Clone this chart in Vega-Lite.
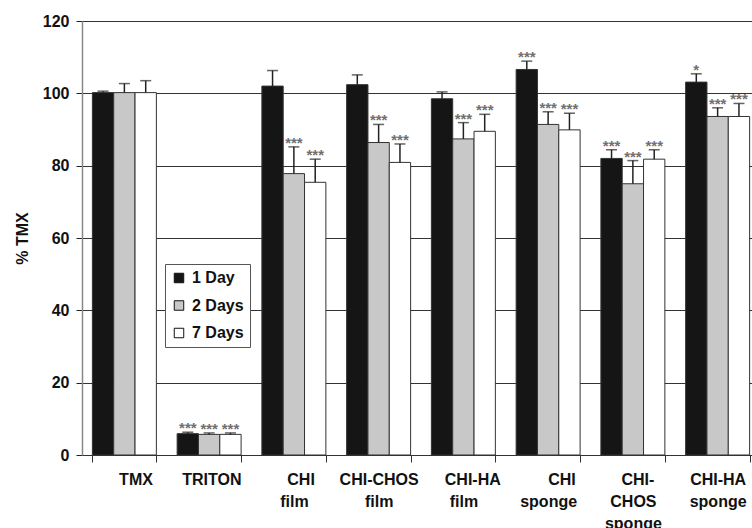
{
  "$schema": "https://vega.github.io/schema/vega-lite/v6.json",
  "autosize": {"type": "none"},
  "padding": {"left": 82, "top": 21, "right": 0, "bottom": 73},
  "width": 670,
  "height": 434,
  "background": "white",
  "config": {
    "font": "Liberation Sans",
    "view": {"stroke": null},
    "axis": {"labelFont": "Liberation Sans", "titleFont": "Liberation Sans"}
  },
  "data": {
    "values": [
      {"sample": "TMX", "time": "1 Day", "pct": 100.2, "upper": 100.6, "sig": ""},
      {"sample": "TMX", "time": "2 Days", "pct": 100.2, "upper": 102.7, "sig": ""},
      {"sample": "TMX", "time": "7 Days", "pct": 100.2, "upper": 103.5, "sig": ""},
      {"sample": "TRITON", "time": "1 Day", "pct": 5.9, "upper": 6.3, "sig": "***"},
      {"sample": "TRITON", "time": "2 Days", "pct": 5.7, "upper": 6.1, "sig": "***"},
      {"sample": "TRITON", "time": "7 Days", "pct": 5.7, "upper": 6.1, "sig": "***"},
      {"sample": "CHI film", "time": "1 Day", "pct": 102.0, "upper": 106.3, "sig": ""},
      {"sample": "CHI film", "time": "2 Days", "pct": 77.8, "upper": 85.2, "sig": "***"},
      {"sample": "CHI film", "time": "7 Days", "pct": 75.4, "upper": 81.8, "sig": "***"},
      {"sample": "CHI-CHOS film", "time": "1 Day", "pct": 102.4, "upper": 105.1, "sig": ""},
      {"sample": "CHI-CHOS film", "time": "2 Days", "pct": 86.4, "upper": 91.4, "sig": "***"},
      {"sample": "CHI-CHOS film", "time": "7 Days", "pct": 80.9, "upper": 86.0, "sig": "***"},
      {"sample": "CHI-HA film", "time": "1 Day", "pct": 98.5, "upper": 100.4, "sig": ""},
      {"sample": "CHI-HA film", "time": "2 Days", "pct": 87.4, "upper": 91.9, "sig": "***"},
      {"sample": "CHI-HA film", "time": "7 Days", "pct": 89.5, "upper": 94.2, "sig": "***"},
      {"sample": "CHI sponge", "time": "1 Day", "pct": 106.6, "upper": 108.9, "sig": "***"},
      {"sample": "CHI sponge", "time": "2 Days", "pct": 91.4, "upper": 94.9, "sig": "***"},
      {"sample": "CHI sponge", "time": "7 Days", "pct": 89.9, "upper": 94.5, "sig": "***"},
      {"sample": "CHI-CHOS sponge", "time": "1 Day", "pct": 82.0, "upper": 84.4, "sig": "***"},
      {"sample": "CHI-CHOS sponge", "time": "2 Days", "pct": 75.0, "upper": 81.4, "sig": "***"},
      {"sample": "CHI-CHOS sponge", "time": "7 Days", "pct": 81.8, "upper": 84.4, "sig": "***"},
      {"sample": "CHI-HA sponge", "time": "1 Day", "pct": 103.1, "upper": 105.4, "sig": "*"},
      {"sample": "CHI-HA sponge", "time": "2 Days", "pct": 93.6, "upper": 96.0, "sig": "***"},
      {"sample": "CHI-HA sponge", "time": "7 Days", "pct": 93.6, "upper": 97.2, "sig": "***"}
    ]
  },
  "encoding": {
    "x": {
      "field": "sample",
      "type": "nominal",
      "sort": null,
      "scale": {"range": [0, 678], "paddingInner": 0.245, "paddingOuter": 0.1225},
      "axis": {
        "title": null,
        "labelAngle": 0,
        "tickBand": "extent",
        "labelExpr": "datum.value == 'TMX' ? '\u200b\u00a0\u00a0\u00a0\u00a0\u00a0TMX' : datum.value == 'TRITON' ? '\u200b\u00a0TRITON' : datum.value == 'CHI film' ? ['\u200b\u00a0\u00a0\u00a0CHI', 'film'] : datum.value == 'CHI-CHOS film' ? ['CHI-CHOS', 'film'] : datum.value == 'CHI-HA film' ? ['\u200b\u00a0\u00a0\u00a0\u00a0CHI-HA', 'film'] : datum.value == 'CHI sponge' ? ['\u200b\u00a0\u00a0\u00a0\u00a0\u00a0\u00a0CHI', 'sponge'] : datum.value == 'CHI-CHOS sponge' ? ['\u200b\u00a0\u00a0CHI-', 'CHOS', 'sponge'] : datum.value == 'CHI-HA sponge' ? ['CHI-HA', 'sponge'] : datum.value",
        "labelFontSize": 16,
        "labelFontWeight": "bold",
        "labelColor": "#111",
        "labelLineHeight": 22,
        "labelBaseline": "top",
        "labelPadding": 9,
        "tickSize": 7,
        "tickColor": "#333",
        "domainColor": "#333",
        "domainWidth": 1.2,
        "labelOverlap": false,
        "labelBound": false,
        "labelFlush": false
      }
    },
    "xOffset": {
      "field": "time",
      "type": "nominal",
      "scale": {"paddingInner": 0, "paddingOuter": 0}
    },
    "y": {
      "field": "pct",
      "type": "quantitative",
      "scale": {"domain": [0, 120], "nice": false},
      "axis": {
        "title": "% TMX",
        "titleFontSize": 16,
        "titleFontWeight": "bold",
        "titleColor": "#111",
        "titlePadding": 12,
        "values": [0, 20, 40, 60, 80, 100, 120],
        "labelFontSize": 16,
        "labelFontWeight": "bold",
        "labelColor": "#111",
        "labelPadding": 7,
        "tickSize": 6,
        "tickColor": "#222",
        "domainColor": "#888",
        "domainWidth": 1.5,
        "grid": true,
        "gridColor": "#333",
        "gridWidth": 1
      }
    }
  },
  "layer": [
    {
      "mark": {"type": "bar", "stroke": "#333", "strokeWidth": 1},
      "encoding": {
        "color": {
          "field": "time",
          "type": "nominal",
          "scale": {"domain": ["1 Day", "2 Days", "7 Days"], "range": ["#151515", "#c8c8c8", "#ffffff"]},
          "legend": {
            "title": null,
            "orient": "none",
            "legendX": 83,
            "legendY": 243,
            "symbolType": "square",
            "symbolSize": 90,
            "symbolStrokeColor": "#111",
            "symbolStrokeWidth": 1,
            "symbolOpacity": 1,
            "labelFontSize": 16,
            "labelFontWeight": "bold",
            "labelColor": "#111",
            "labelOffset": 5,
            "rowPadding": 11.5,
            "padding": 6,
            "fillColor": "white",
            "strokeColor": "#555",
            "cornerRadius": 0
          }
        }
      }
    },
    {
      "mark": {"type": "rule", "color": "#222", "strokeWidth": 1.5},
      "encoding": {"y2": {"field": "upper"}}
    },
    {
      "mark": {"type": "tick", "color": "#222", "thickness": 1.5, "size": 11},
      "encoding": {"y": {"field": "upper", "type": "quantitative"}}
    },
    {
      "mark": {"type": "text", "color": "#707070", "fontSize": 15, "fontWeight": "bold", "baseline": "alphabetic", "dy": 1},
      "encoding": {
        "y": {"field": "upper", "type": "quantitative"},
        "text": {"field": "sig"}
      }
    }
  ]
}
